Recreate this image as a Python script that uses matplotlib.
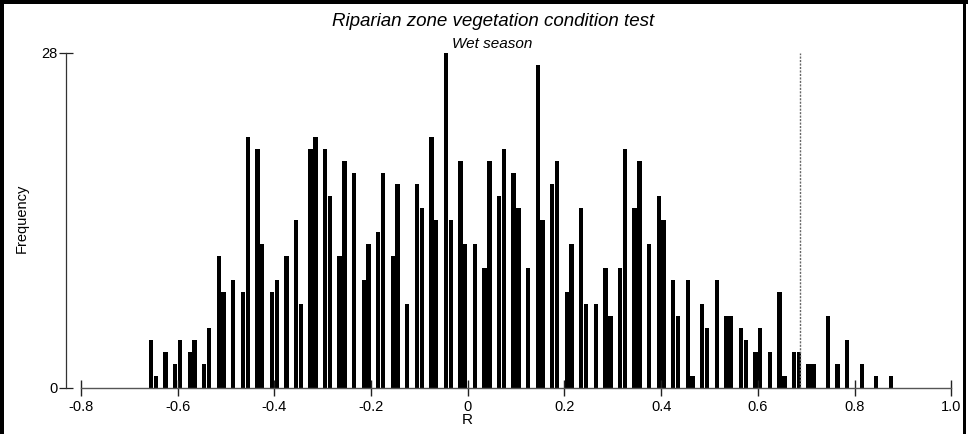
import numpy as np
import matplotlib
matplotlib.use("Agg")
import matplotlib.pyplot as plt
from matplotlib.patches import Rectangle

# ---- data ----
bin_start = -0.66
bin_width = 0.01
counts = [4, 1, 0, 3, 0, 2, 4, 0, 3, 4,
          0, 2, 5, 0, 11, 8, 0, 9, 0, 8,
          21, 0, 20, 12, 0, 8, 9, 0, 11, 0,
          14, 7, 0, 20, 21, 0, 20, 16, 0, 11,
          19, 0, 18, 0, 9, 12, 0, 13, 18, 0,
          11, 17, 0, 7, 0, 17, 15, 0, 21, 14,
          0, 28, 14, 0, 19, 12, 0, 12, 0, 10,
          19, 0, 16, 20, 0, 18, 15, 0, 10, 0,
          27, 14, 0, 17, 19, 0, 8, 12, 0, 15,
          7, 0, 7, 0, 10, 6, 0, 10, 20, 0,
          15, 19, 0, 12, 0, 16, 14, 0, 9, 6,
          0, 9, 1, 0, 7, 5, 0, 9, 0, 6,
          6, 0, 5, 4, 0, 3, 5, 0, 3, 0,
          8, 1, 0, 3, 3, 0, 2, 2, 0, 0,
          6, 0, 2, 0, 4, 0, 0, 2, 0, 0,
          1, 0, 0, 1]
observed_R = 0.687
x_ticks = [-0.8, -0.6, -0.4, -0.2, 0, 0.2, 0.4, 0.6, 0.8, 1.0]
x_tick_labels = ["-0.8", "-0.6", "-0.4", "-0.2", "0", "0.2", "0.4", "0.6", "0.8", "1.0"]
y_ticks = [0, 28]
title = "Riparian zone vegetation condition test"
subtitle = "Wet season"

W, H = 968, 434
fig = plt.figure(figsize=(W / 100, H / 100), dpi=100)
fig.patch.set_facecolor("white")

x0, x1 = 80.9, 951.2
y0, y1 = 387.7, 53.0
ax = fig.add_axes([x0 / W, (H - y0) / H, (x1 - x0) / W, (y0 - y1) / H])

centers = bin_start + bin_width / 2 + bin_width * np.arange(len(counts))
ax.bar(centers, counts, width=bin_width * 0.9, color="black", linewidth=0)

ax.plot([observed_R, observed_R], [0, 28], color="#666666", lw=1.0,
        linestyle=(0, (1.5, 1)))

ax.set_xlim(-0.8, 1.0)
ax.set_ylim(0, 28)
for s in ["top", "right"]:
    ax.spines[s].set_visible(False)
ax.spines["left"].set_position(("outward", 10.8))
ax.spines["left"].set_color("#333333")
ax.spines["bottom"].set_color("#555555")
ax.spines["left"].set_linewidth(0.9)
ax.spines["bottom"].set_linewidth(1.0)

ax.set_xticks(x_ticks)
ax.set_xticklabels(x_tick_labels)
ax.set_yticks(y_ticks)
ax.tick_params(axis="x", direction="inout", length=11, width=1.0, color="#222222",
               labelsize=10.5, pad=3)
ax.tick_params(axis="y", direction="inout", length=10, width=0.9, color="#222222",
               labelsize=10.5, pad=1)
for lab in ax.get_xticklabels() + ax.get_yticklabels():
    lab.set_family("Liberation Sans")

fig.text(467.7 / W, 1 - 420 / H, "R", ha="center", va="center",
         fontsize=11, family="Liberation Sans")
fig.text(22 / W, 1 - 218 / H, "Frequency", ha="center", va="center",
         rotation=90, fontsize=10.5, family="Liberation Sans")
fig.text(493 / W, 1 - 22 / H, title, ha="center", va="center",
         fontsize=13.5, style="italic", family="Liberation Sans")
fig.text(492 / W, 1 - 44 / H, subtitle, ha="center", va="center",
         fontsize=11, style="italic", family="Liberation Sans")

# frame
fig.add_artist(Rectangle((0, 1 - 4 / H), 1, 4 / H, transform=fig.transFigure,
                         color="black", lw=0))
fig.add_artist(Rectangle((0, 0), 4 / W, 1, transform=fig.transFigure,
                         color="black", lw=0))
fig.add_artist(Rectangle((963 / W, 0), 3 / W, 1, transform=fig.transFigure,
                         color="black", lw=0))

fig.savefig("out.png", dpi=100, facecolor="white")
